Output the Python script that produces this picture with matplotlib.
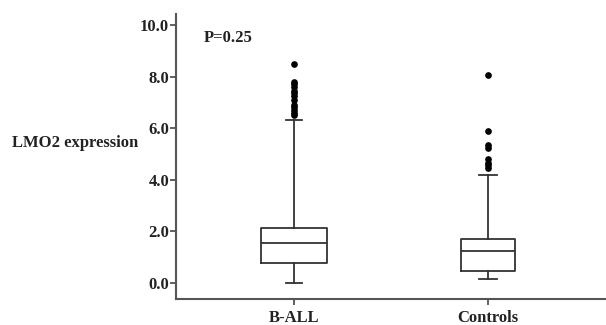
import matplotlib
matplotlib.use("Agg")
import matplotlib.pyplot as plt

categories = ["B-ALL", "Controls"]
q1 = [0.75, 0.46]
median = [1.55, 1.22]
q3 = [2.13, 1.70]
whisker_low = [-0.02, 0.14]
whisker_high = [6.31, 4.17]
outliers = [
    [8.5, 7.8, 7.7, 7.6, 7.45, 7.35, 7.25, 7.1, 6.9, 6.8, 6.7, 6.6, 6.5],
    [8.05, 5.88, 5.33, 5.22, 4.78, 4.65, 4.55, 4.45],
]
yticks = [0.0, 2.0, 4.0, 6.0, 8.0, 10.0]
ytick_labels = ["0.0", "2.0", "4.0", "6.0", "8.0", "10.0"]
p_text = "P=0.25"
ylabel = "LMO2 expression"

plt.rcParams['font.family'] = ['Liberation Serif', 'DejaVu Serif']
plt.rcParams['font.weight'] = 'bold'

fig = plt.figure(figsize=(6.06, 3.25), dpi=100)
ax = fig.add_axes([176/606, 1-299/325, 1-176/606, (299-14)/325])

stats = []
for i, c in enumerate(categories):
    stats.append(dict(label=c, q1=q1[i], med=median[i], q3=q3[i],
                      whislo=whisker_low[i], whishi=whisker_high[i],
                      fliers=outliers[i]))

lc = "#333333"
ax.bxp(stats, positions=[1, 2], widths=[0.338, 0.278], capwidths=[0.085, 0.09],
       showfliers=True,
       boxprops=dict(color=lc, linewidth=1.3),
       medianprops=dict(color=lc, linewidth=1.3),
       whiskerprops=dict(color=lc, linewidth=1.3),
       capprops=dict(color=lc, linewidth=1.3),
       flierprops=dict(marker='o', markerfacecolor='black', markeredgecolor='black',
                       markersize=3.8))

ax.set_xlim(0.392, 2.608)
ax.set_ylim(-0.64, 10.43)
ax.set_yticks(yticks)
ax.set_yticklabels(ytick_labels)
ax.set_xticks([1, 2])
ax.set_xticklabels(categories)

for s in ["top", "right"]:
    ax.spines[s].set_visible(False)
for s in ["left", "bottom"]:
    ax.spines[s].set_color("#555555")
    ax.spines[s].set_linewidth(1.5)
ax.tick_params(axis='both', colors="#555555", length=4, width=1.3, labelsize=12,
               labelcolor='#222222', pad=1)
ax.tick_params(axis='x', pad=4)
for lbl in ax.get_xticklabels() + ax.get_yticklabels():
    lbl.set_fontweight('bold')

ax.text(0.065, 0.916, p_text, transform=ax.transAxes, fontsize=12,
        fontweight='bold', color='#222222', ha='left', va='center')

fig.text(12/606, 1-143/325, ylabel, fontsize=12, fontweight='bold',
         color='#222222', ha='left', va='center')

fig.savefig("out.png", dpi=100)
